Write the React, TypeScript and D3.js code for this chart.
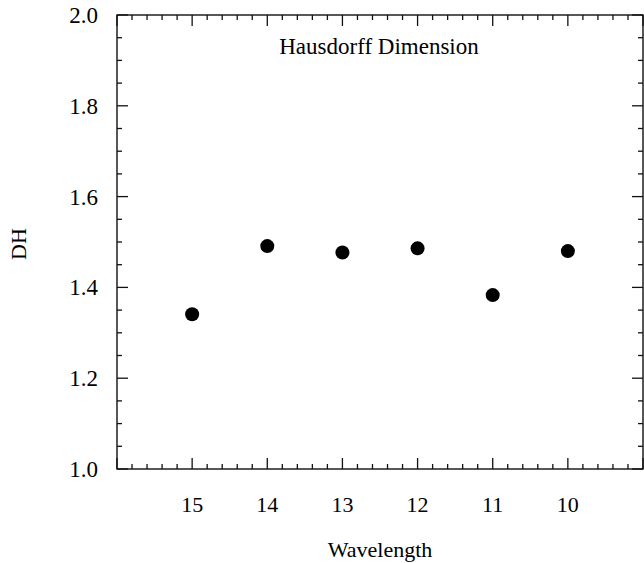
import React from "react";
import * as d3 from "d3";

const wavelengths = [15, 14, 13, 12, 11, 10];
const dhValues = [1.341, 1.491, 1.477, 1.486, 1.383, 1.48];
const xTickLabels = ["15", "14", "13", "12", "11", "10"];
const yTickValues = [1.0, 1.2, 1.4, 1.6, 1.8, 2.0];

export default function App() {
  const W = 644, H = 563;
  const left = 117, right = 643, top = 15, bottom = 469;
  const x = d3.scaleLinear().domain([16, 9]).range([left, right]);
  const y = d3.scaleLinear().domain([1.0, 2.0]).range([bottom, top]);
  const font = "Liberation Serif, Times New Roman, serif";

  const xMinor = d3.range(9, 16.0001, 0.2).map((v) => Math.round(v * 10) / 10);
  const yMinor = d3.range(1.0, 2.0001, 0.05).map((v) => Math.round(v * 100) / 100);
  const isXMajor = (v: number) => Math.abs(v - Math.round(v)) < 1e-6;
  const isYMajor = (v: number) => Math.abs(v * 5 - Math.round(v * 5)) < 1e-6;

  const majLen = 11, minLen = 5;
  const stroke = "#111";

  return (
    <svg width={W} height={H} style={{ position: "absolute", left: 0, top: 0, background: "#fff" }}>
      <rect x={left} y={top} width={right - left} height={bottom - top} fill="none" stroke={stroke} strokeWidth={1.4} />
      {xMinor.map((v, i) => {
        const len = isXMajor(v) ? majLen : minLen;
        const px = x(v);
        return (
          <g key={"xt" + i}>
            <line x1={px} x2={px} y1={bottom} y2={bottom - len} stroke={stroke} strokeWidth={1.3} />
            <line x1={px} x2={px} y1={top} y2={top + len} stroke={stroke} strokeWidth={1.3} />
          </g>
        );
      })}
      {yMinor.map((v, i) => {
        const len = isYMajor(v) ? majLen : minLen;
        const py = y(v);
        return (
          <g key={"yt" + i}>
            <line x1={left} x2={left + len} y1={py} y2={py} stroke={stroke} strokeWidth={1.3} />
            <line x1={right} x2={right - len} y1={py} y2={py} stroke={stroke} strokeWidth={1.3} />
          </g>
        );
      })}
      {yTickValues.map((v) => (
        <text key={"yl" + v} x={98} y={y(v)} dy="0.35em" textAnchor="end" fontFamily={font} fontSize={23} fill="#000">
          {v.toFixed(1)}
        </text>
      ))}
      {wavelengths.map((w, i) => (
        <text key={"xl" + w} x={x(w)} y={512} textAnchor="middle" fontFamily={font} fontSize={22} fill="#000">
          {xTickLabels[i]}
        </text>
      ))}
      {wavelengths.map((w, i) => (
        <circle key={"pt" + w} cx={x(w)} cy={y(dhValues[i])} r={7} fill="#000" />
      ))}
      <text x={379} y={54} textAnchor="middle" fontFamily={font} fontSize={23} fill="#000">
        Hausdorff Dimension
      </text>
      <text x={380} y={557} textAnchor="middle" fontFamily={font} fontSize={22} fill="#000">
        Wavelength
      </text>
      <text transform={`translate(26, 244) rotate(-90)`} textAnchor="middle" fontFamily={font} fontSize={22} fill="#000">
        DH
      </text>
    </svg>
  );
}
